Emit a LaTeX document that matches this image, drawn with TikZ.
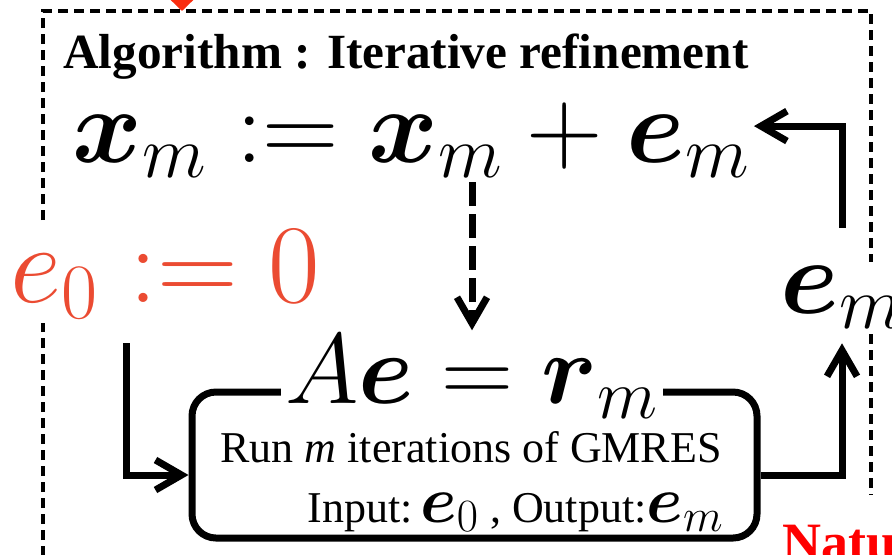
\RequirePackage{fix-cm}
\documentclass[tikz,border=0pt]{standalone}
\usepackage{amsmath}
\usepackage[no-math]{fontspec}
\setmainfont{Liberation Serif}
\usetikzlibrary{arrows.meta}

\definecolor{initred}{RGB}{235,75,50}
\definecolor{markred}{RGB}{250,45,15}

\newcommand{\algtitlefont}{\fontsize{24.6}{30}\selectfont\bfseries}
\newcommand{\bigmath}{\fontsize{53}{60}\selectfont}
\newcommand{\gmresfont}{\fontsize{22}{30}\selectfont}
\newcommand{\boxvec}[2]{{\fontsize{33}{30}\selectfont$\boldsymbol{#1}_{#2}$}}

\begin{document}
\begin{tikzpicture}[x=0.5pt, y=-0.5pt,
    flow/.style={line width=3.5pt, -{Straight Barb[length=13pt, width=15pt]}},
    frameline/.style={line width=1.7pt, dash pattern=on 5pt off 3pt},
    mathlabel/.style={inner sep=2pt, font=\bigmath},
    gmresbox/.style={draw, line width=3.5pt, rounded corners=12pt, minimum width=282.5pt, minimum height=73pt}]
    \useasboundingbox (0,0) rectangle (892,554);

    % Frame
    \draw[frameline] (43,620) |- (871,11) -- (871,620);
    \coordinate (markfrom) at (182,-40);
    \coordinate (markto) at (182,11);
    \draw[line width=2pt, markred, -{Triangle[length=8pt, width=16pt]}] (markfrom) -- (markto);

    % Title and update step
    \node[anchor=base west, inner sep=0pt, font=\algtitlefont] (title) at (63,68) {Algorithm : Iterative refinement};
    \node[mathlabel, anchor=base] (update) at (411,162) {$\boldsymbol{x}_m := \boldsymbol{x}_m + \boldsymbol{e}_m$};

    % Initial guess and correction
    \node[mathlabel, anchor=base west, fill=white, text=initred, font=\fontsize{56}{60}\selectfont] (init) at (6,302) {$e_0 := 0$};
    \node[mathlabel, anchor=base west, fill=white] (corr) at (776,313) {$\boldsymbol{e}_m$};
    \coordinate (initdrop) at (126,341);

    % GMRES box
    \node[gmresbox] (gmres) at (474.5,465) {};
    \node[mathlabel, anchor=base, fill=white, font=\fontsize{50}{60}\selectfont] (residual) at (472,403) {$A\boldsymbol{e} = \boldsymbol{r}_m$};
    \node[anchor=base east, inner sep=0pt, font=\gmresfont] (runline) at (722,462) {Run \textit{m} iterations of GMRES};
    \node[anchor=base east, inner sep=0pt, font=\gmresfont] (ioline) at (724,522) {Input:\,\boxvec{e}{0} , Output:\boxvec{e}{m}};

    % Cut-off label
    \node[anchor=base west, inner xsep=2pt, inner ysep=15pt, fill=white, text=red, font=\fontsize{27}{30}\selectfont\bfseries] (natu) at (778,560) {Natu};

    % Connections
    \draw[flow, dash pattern=on 12pt off 4pt] (update.south -| residual.north) -- (residual.north);
    \draw[flow, shorten <=10pt] (init.south -| initdrop) |- (gmres.182);
    \draw[flow, shorten >=5pt] (gmres.358) -| (corr.south);
    \draw[flow, shorten <=17pt] (corr.north) |- ([yshift=7pt]update.east);
\end{tikzpicture}
\end{document}
